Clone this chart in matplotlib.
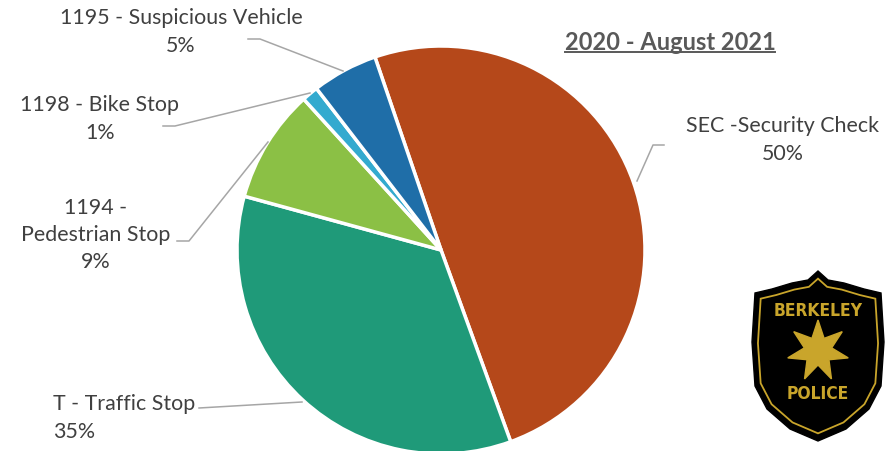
import numpy as np
import matplotlib.pyplot as plt

# data
labels = ["SEC -Security Check", "T - Traffic Stop", "1194 -\nPedestrian Stop", "1198 - Bike Stop", "1195 - Suspicious Vehicle"]
values = [49.7, 34.8, 9.0, 1.3, 5.2]
colors = ["#B5481A", "#1F9A79", "#8BC045", "#33AACF", "#1F6EA8"]
title = "2020 - August 2021"

W, H = 894, 452
plt.rcParams['font.family'] = ['Lato', 'DejaVu Sans']
fig = plt.figure(figsize=(W / 100, H / 100), dpi=100)
ax = fig.add_axes([0, 0, 1, 1])
ax.set_xlim(0, W)
ax.set_ylim(0, H)
ax.set_aspect('equal')
ax.axis('off')

def py(y):
    # pixel row -> axis y
    return H - y

cx, cy, r = 441, py(251), 204
ax.pie(values, colors=colors, center=(cx, cy), radius=r, startangle=108.9,
       counterclock=False, wedgeprops=dict(edgecolor='white', linewidth=2.5))
ax.set_xlim(0, W)
ax.set_ylim(0, H)

tc = '#404040'
lc = '#A6A6A6'
fs = 15.4
ls = 1.45

# labels + leader lines
pcts = [f"{round(v)}%" for v in values]
# SEC
ax.text(783, py(140), labels[0] + "\n" + pcts[0], ha='center', va='center', fontsize=fs, color=tc, linespacing=ls)
ax.plot([664, 653, 637], [py(146), py(146), py(182)], color=lc, lw=1.1)
# Traffic
ax.text(53, py(418), labels[1] + "\n" + pcts[1], ha='left', va='center', fontsize=fs, color=tc, linespacing=ls)
ax.plot([199, 302], [py(409), py(403)], color=lc, lw=1.1)
# Pedestrian
ax.text(96, py(235), labels[2] + "\n" + pcts[2], ha='center', va='center', fontsize=fs, color=tc, linespacing=ls)
ax.plot([177, 189, 268], [py(242), py(242), py(143)], color=lc, lw=1.1)
# Bike
ax.text(100, py(119), labels[3] + "\n" + pcts[3], ha='center', va='center', fontsize=fs, color=tc, linespacing=ls)
ax.plot([163, 175, 310], [py(127), py(127), py(94)], color=lc, lw=1.1)
# Suspicious
ax.text(181, py(32), labels[4] + "\n" + pcts[4], ha='center', va='center', fontsize=fs, color=tc, linespacing=ls)
ax.plot([248, 260, 343], [py(40), py(40), py(72)], color=lc, lw=1.1)

# title with underline
t = ax.text(670, py(43), title, ha='center', va='center', fontsize=17, fontweight='bold', color='#595959')
fig.canvas.draw()
bb = t.get_window_extent().transformed(ax.transData.inverted())
ax.plot([bb.x0, bb.x1], [bb.y0 + 2, bb.y0 + 2], color='#595959', lw=1.4)

# badge logo
gold = '#C9A52B'
outline = [(755, 294), (772, 290), (792, 284), (808, 281), (818, 272), (828, 281), (844, 284),
           (864, 290), (881, 294), (884, 343), (881, 387), (869, 410), (846, 430), (818, 442),
           (790, 430), (767, 410), (755, 387), (752, 343)]
pts = np.array(outline, dtype=float)
bx, by = 818, 357
ax.fill(pts[:, 0], py(pts[:, 1]), color='black', zorder=5)
inner = (pts - [bx, by]) * 0.91 + [bx, by]
ax.fill(inner[:, 0], py(inner[:, 1]), facecolor='black', edgecolor=gold, lw=1.3, zorder=6)
# 7 point star
ang = np.pi / 2 + np.arange(14) * np.pi / 7
rad = np.where(np.arange(14) % 2 == 0, 31, 14)
sx = 818 + rad * np.cos(ang)
sy = py(352) + rad * np.sin(ang)
ax.fill(sx, sy, color=gold, zorder=7)
ax.text(818, py(311), "BERKELEY", ha='center', va='center', fontsize=12.5, fontweight='bold',
        color=gold, family='DejaVu Sans', fontstretch='condensed', zorder=7)
ax.text(818, py(394), "POLICE", ha='center', va='center', fontsize=12.5, fontweight='bold',
        color=gold, family='DejaVu Sans', fontstretch='condensed', zorder=7)

fig.savefig('out.png', dpi=100)
